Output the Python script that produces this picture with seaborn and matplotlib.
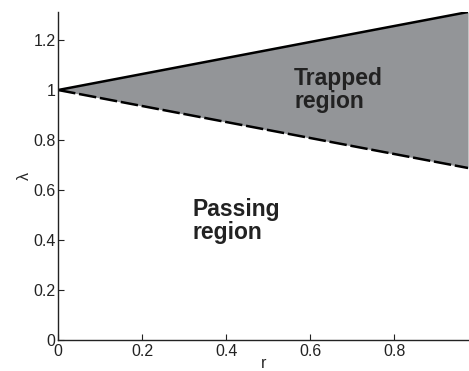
import matplotlib
matplotlib.use("Agg")
import matplotlib.pyplot as plt
import seaborn as sns
import pandas as pd

r_vals = [0.0, 0.25, 0.5, 0.75, 0.976]
upper_vals = [1.0, 1.08, 1.16, 1.24, 1.312]
lower_vals = [1.0, 0.92, 0.84, 0.76, 0.688]
xticks = [0, 0.2, 0.4, 0.6, 0.8]
yticks = [0, 0.2, 0.4, 0.6, 0.8, 1.0, 1.2]
yticklabels = ["0", "0.2", "0.4", "0.6", "0.8", "1", "1.2"]

sns.set_style("ticks")
plt.rcParams['font.family'] = ['Liberation Sans', 'DejaVu Sans']

df = pd.DataFrame({"r": r_vals, "upper": upper_vals, "lower": lower_vals})

fig = plt.figure(figsize=(4.69, 3.71), dpi=100)
ax = fig.add_axes([0.124, 0.0836, 0.874, 0.884])

ax.fill_between(df["r"], df["lower"], df["upper"], color="#939598", linewidth=0)
sns.lineplot(data=df, x="r", y="upper", ax=ax, color="black", linewidth=1.8)
sns.lineplot(data=df, x="r", y="lower", ax=ax, color="black", linewidth=1.8,
             linestyle=(0, (7, 1.5)))

ax.set_xlim(0, 0.976)
ax.set_ylim(0, 1.312)
ax.set_xticks(xticks)
ax.set_xticklabels(["0", "0.2", "0.4", "0.6", "0.8"])
ax.set_yticks(yticks)
ax.set_yticklabels(yticklabels)
ax.tick_params(direction="in", length=4, width=0.8, labelsize=11.5, colors="#222222", pad=2)
ax.tick_params(axis="x", pad=3)
for s in ["top", "right"]:
    ax.spines[s].set_visible(False)
for s in ["left", "bottom"]:
    ax.spines[s].set_linewidth(1.0)
    ax.spines[s].set_color("#222222")

ax.set_xlabel("r", fontsize=11.5, labelpad=-2)
ax.set_ylabel("λ", fontsize=11.5, labelpad=1)

ax.text(0.562, 1.0, "Trapped\nregion", fontsize=16.5, fontweight="bold",
        color="#222222", ha="left", va="center", linespacing=1.0)
ax.text(0.321, 0.475, "Passing\nregion", fontsize=16.5, fontweight="bold",
        color="#222222", ha="left", va="center", linespacing=1.0)

fig.savefig("out.png", dpi=100)
